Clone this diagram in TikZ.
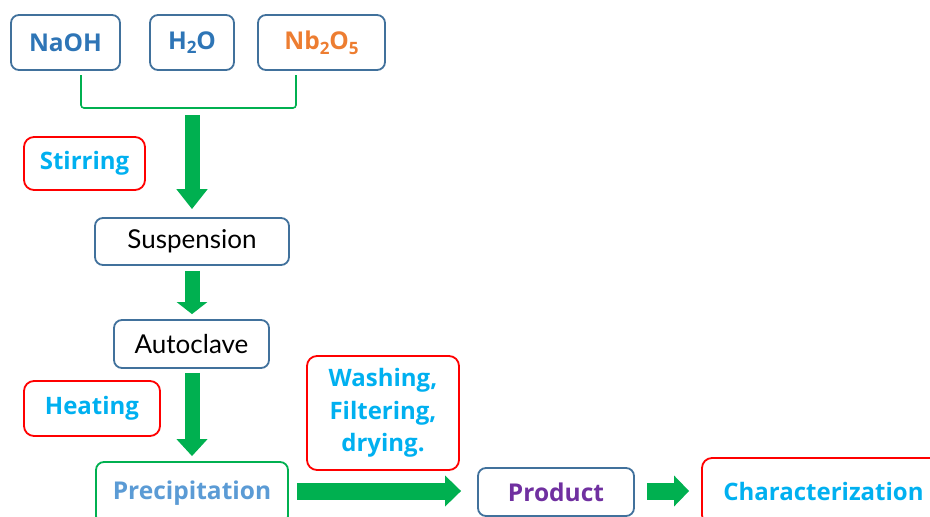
\documentclass[tikz,border=0pt]{standalone}
\usepackage{fontspec}
\setmainfont{Open Sans}
\newfontfamily\thinfont{Lato}
\usetikzlibrary{arrows.meta,calc}
\definecolor{boxblue}{HTML}{41719C}
\definecolor{txtblue}{HTML}{2E75B6}
\definecolor{txtorange}{HTML}{ED7D31}
\definecolor{txtcyan}{HTML}{00B0F0}
\definecolor{txtpurple}{HTML}{7030A0}
\definecolor{txtlight}{HTML}{5B9BD5}
\definecolor{arrgreen}{HTML}{00B050}
\definecolor{brgreen}{HTML}{00B050}
\newcommand{\chsub}[1]{\raisebox{-0.35ex}{\fontsize{17}{17}\selectfont #1}}
\tikzset{
  box/.style={draw=boxblue, line width=1.8pt, rounded corners=8pt, align=center, inner sep=0pt},
  redbox/.style={draw=red, line width=1.8pt, rounded corners=10pt, align=center, inner sep=0pt,
     text=txtcyan, font=\fontsize{24}{32.5}\selectfont\bfseries},
  chem/.style={font=\fontsize{24.5}{28}\selectfont\bfseries},
  plain/.style={font=\thinfont\fontsize{26}{30}\selectfont, text=black},
  bigarrow/.style={draw=arrgreen, line width=15pt, -{Triangle[width=30pt,length=#1]}},
  bracket/.style={draw=brgreen, line width=1.6pt, rounded corners=3pt}
}
\begin{document}
\begin{tikzpicture}[x=1pt,y=-1pt]
\useasboundingbox (0,0) rectangle (930,517);
\clip (0,0) rectangle (930,517);
% top reagents
\node[box, chem, text=txtblue, minimum width=109pt, minimum height=55pt] (naoh) at (65.5,42.5) {NaOH};
\node[box, chem, text=txtblue, minimum width=84pt, minimum height=55pt] (water) at (192,42.5) {H\chsub{2}O};
\node[box, chem, text=txtorange, minimum width=127pt, minimum height=55pt] (nb) at (321.5,42.5) {Nb\chsub{2}O\chsub{5}};
% bracket
\coordinate (bL) at (81,75);
\coordinate (bR) at (296,75);
\coordinate (bM) at (192,108);
\draw[bracket] (bL) |- (bM) -| (bR);
% process steps
\node[box, plain, minimum width=194pt, minimum height=47pt] (susp) at (192,241.5) {Suspension};
\node[box, plain, minimum width=155pt, minimum height=48pt] (auto) at (191.5,344) {Autoclave};
\node[box, draw=brgreen, chem, text=txtlight, minimum width=192pt, minimum height=62pt] (prec) at (192,493) {Precipitation};
\node[box, chem, text=txtpurple, minimum width=156pt, minimum height=48pt] (prod) at (556,492) {Product};
\node[redbox, minimum width=243pt, minimum height=67pt] (char) at (823.5,491.5) {Characterization};
% condition labels
\node[redbox, minimum width=121pt, minimum height=53pt] (stir) at (84.5,163.5) {Stirring};
\node[redbox, minimum width=136pt, minimum height=55pt] (heat) at (92,408.5) {Heating};
\node[redbox, minimum width=152pt, minimum height=114pt] (wash) at (383,413) {Washing,\\Filtering,\\drying.};
% arrows
\draw[bigarrow=20pt, shorten <=7pt, shorten >=8pt] (bM) -- (susp.north);
\draw[bigarrow=12pt, shorten <=5pt, shorten >=5pt] (susp.south) -- (auto.north -| susp.south);
\draw[bigarrow=17pt, shorten <=4pt, shorten >=5pt] (auto.south -| prec.north) -- (prec.north);
\draw[bigarrow=16pt, line width=17pt, shorten <=8pt, shorten >=16pt] (prec.east |- 0,491) -- (prod.west |- 0,491);
\draw[bigarrow=15pt, line width=17pt, shorten <=12pt, shorten >=12pt] (prod.east |- 0,491) -- (char.west |- 0,491);
\end{tikzpicture}
\end{document}
